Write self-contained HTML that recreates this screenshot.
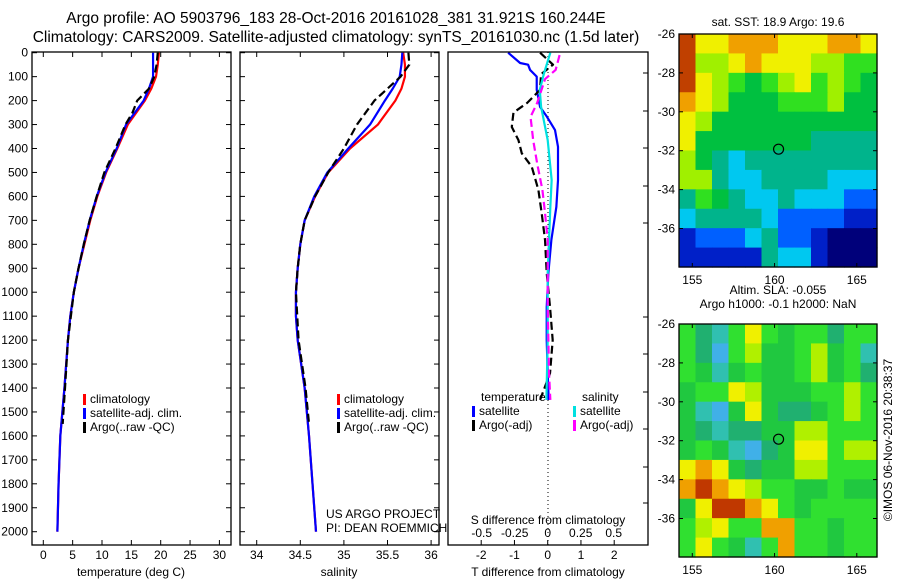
<!DOCTYPE html>
<html><head><meta charset="utf-8"><style>
body{margin:0;background:#fff;}
svg{display:block;font-family:"Liberation Sans",sans-serif;font-size:12px;}
</style></head><body>
<svg id="c" width="900" height="580" xmlns="http://www.w3.org/2000/svg"></svg>
<script>
// ---------- data ----------
const depths = [0,50,100,150,200,300,400,500,600,700,800,900,1000,1100,1200,1400,1600,1800,2000];
const tClim  = [19.7,19.5,19.2,18.4,17.3,14.4,12.6,10.7,9.2,8.0,7.0,6.0,5.2,4.6,4.2,3.6,2.9,2.6,2.4];
const tSat   = [18.7,18.7,18.7,18.0,17.1,14.1,12.5,10.6,9.1,7.9,6.9,6.0,5.2,4.6,4.2,3.6,2.9,2.6,2.4];
const argoDepths = [0,50,100,150,200,250,300,400,500,600,700,800,900,1000,1200,1400,1550];
const tArgo  = [19.5,19.3,18.9,18.0,16.0,15.2,14.0,12.3,10.4,9.1,7.9,6.9,6.0,5.2,4.2,3.7,3.3];
const sClim  = [35.68,35.70,35.70,35.66,35.59,35.39,35.07,34.82,34.67,34.55,34.50,34.47,34.45,34.45,34.47,34.55,34.60,34.64,34.68];
const sSat   = [35.67,35.66,35.64,35.56,35.47,35.30,35.05,34.81,34.66,34.55,34.50,34.47,34.45,34.45,34.47,34.55,34.60,34.64,34.68];
const sArgo  = [35.74,35.75,35.65,35.50,35.35,35.25,35.15,35.00,34.82,34.67,34.55,34.50,34.47,34.45,34.48,34.56,34.60];
const dTdepth = [0,43,50,72,100,155,226,268,323,393,532,644,782,920,1062,1200,1338,1450];
const dTsat   = [-1.19,-0.83,-0.59,-0.53,-0.33,-0.33,-0.23,-0.02,0.22,0.31,0.31,0.26,0.11,0.02,-0.03,-0.03,0,0.03];
const dTargoDepth = [0,50,90,155,210,250,310,365,420,476,573,671,782,920,1062,1200,1338,1450];
const dTargo  = [-0.23,0.16,-0.2,-0.23,-0.62,-1.03,-1.08,-0.88,-0.78,-0.48,-0.28,-0.18,-0.08,-0.03,0.07,0.15,0.07,-0.23];
const dSdepth = [0,90,155,226,365,532,644,920,1200,1450];
const dSsat   = [0.02,-0.03,-0.06,-0.05,0,0.03,0.02,0,0,-0.01];
const dSargoDepth = [10,72,110,210,268,365,462,573,671,782,1062,1338,1450];
const dSargo  = [0.09,0.06,-0.02,-0.08,-0.13,-0.11,-0.08,-0.04,-0.02,0,0,0.01,0.02];
const depthTicks = [0,100,200,300,400,500,600,700,800,900,1000,1100,1200,1300,1400,1500,1600,1700,1800,1900,2000];
const tTicks = [0,5,10,15,20,25,30];
const sTicks = [34,34.5,35,35.5,36];
const sTickLabels = ["34","34.5","35","35.5","36"];
const dTTicks = [-2,-1,0,1,2];
const dSTicks = [-0.5,-0.25,0,0.25,0.5];
const dSTickLabels = ["-0.5","-0.25","0","0.25","0.5"];
const lonTicks = [155,160,165];
const latTicks = [-26,-28,-30,-32,-34,-36];
const sstPalette = ["#00007a","#0020c8","#0060ff","#00c8f0","#00b48c","#00c040","#30e020","#a0f000","#f0f000","#f0a000","#c04000"];
const slaPalette = ["#0040c0","#0080e0","#40b0e8","#30c0b0","#20b070","#20c840","#30e030","#b0f000","#f0f000","#f0a000","#c03800"];
const sstGrid = [
[10,8,8,9,9,9,8,8,8,9,9,8],
[10,7,7,8,9,8,8,8,7,7,6,6],
[10,8,7,6,5,6,7,8,6,7,6,5],
[9,8,7,5,5,5,6,6,6,7,5,5],
[8,7,5,5,5,5,5,5,5,5,5,5],
[8,5,5,5,5,5,5,5,4,4,4,4],
[7,5,4,3,4,4,4,4,4,4,4,4],
[7,7,4,3,3,4,4,4,4,3,3,3],
[4,6,5,4,3,3,4,3,3,3,2,2],
[3,4,4,4,4,3,2,2,2,2,1,1],
[1,2,2,2,3,4,2,2,1,0,0,0],
[1,1,1,1,1,4,3,3,1,0,0,0]];
const slaGrid = [
[6,4,3,6,8,6,5,6,6,4,6,6],
[6,4,2,6,7,5,5,6,7,5,6,3],
[6,5,3,5,6,5,5,6,7,5,6,4],
[5,6,6,8,7,5,5,5,6,6,7,6],
[5,3,2,5,8,5,4,4,5,6,7,6],
[5,4,3,4,4,5,5,7,7,6,6,6],
[5,6,5,3,2,4,5,8,8,6,7,7],
[8,9,8,5,4,5,5,7,7,6,6,6],
[9,10,9,8,7,6,6,5,5,6,5,5],
[5,8,10,10,9,8,6,5,6,6,6,6],
[6,7,8,6,6,9,9,6,6,5,6,6],
[6,8,6,5,3,6,9,6,6,5,6,6]];

// ---------- helpers ----------
const svg=document.getElementById('c');
const NS="http://www.w3.org/2000/svg";
function el(tag,attrs,parent){const e=document.createElementNS(NS,tag);for(const k in attrs)e.setAttribute(k,attrs[k]);(parent||svg).appendChild(e);return e;}
function txt(x,y,s,anchor,parent,extra){const t=el('text',Object.assign({x:x,y:y,'text-anchor':anchor||'start',fill:'#000'},extra||{}),parent);t.textContent=s;return t;}
const yD = d => 52.7 + d*0.2395;
const xT = v => 43.3 + v*5.87;
const xS = v => 256.7 + (v-34)*87.2;
const xDT = v => 547.7 + v*33.25;
const xDS = v => 547.7 + v*132;
function line(xs,ds,xf,color,dash,name){
  const p=el('polyline',{points:xs.map((v,i)=>xf(v)+','+yD(ds[i])).join(' '),fill:'none',stroke:color,'stroke-width':2.2,'stroke-linejoin':'round','stroke-dasharray':dash||'none'});
  
  
  return p;
}
function box(x,y,w,h,name){const r=el('rect',{x:x,y:y,width:w,height:h,fill:'none',stroke:'#000','stroke-width':1.3});return r;}

// titles
const t1=txt(336,23,"Argo profile: AO 5903796_183 28-Oct-2016 20161028_381 31.921S 160.244E",'middle',null,{'font-size':'15.5px'});

const t2=txt(336,42,"Climatology: CARS2009. Satellite-adjusted climatology: synTS_20161030.nc (1.5d later)",'middle',null,{'font-size':'15.5px'});


// ---------- panel 1 temperature ----------
const g1=el('g',{});
depthTicks.forEach(d=>{el('line',{x1:32,x2:37,y1:yD(d),y2:yD(d),stroke:'#000'},g1);el('line',{x1:226,x2:231,y1:yD(d),y2:yD(d),stroke:'#000'},g1);
  const t=txt(28,yD(d)+4,String(d),'end',g1);});
tTicks.forEach(v=>{el('line',{x1:xT(v),x2:xT(v),y1:545,y2:540,stroke:'#000'},g1);el('line',{x1:xT(v),x2:xT(v),y1:52,y2:57,stroke:'#000'},g1);
  const t=txt(xT(v),559,String(v),'middle',g1);});
const xl1=txt(131,576,"temperature (deg C)",'middle',g1);
line(tClim,depths,xT,'#ff0000',null,'temperature-climatology-line');
line(tSat,depths,xT,'#0000ff',null,'temperature-satellite-line');
line(tArgo,argoDepths,xT,'#000','8,4','temperature-argo-line');
box(32,52,199,493,'temperature-axes-box');

function legend(x,y,items,prefix){
  items.forEach((it,i)=>{
    const r=el('rect',{x:x,y:y+i*14-9,width:3,height:11,fill:it[1]});
    
    const t=txt(x+7,y+i*14,it[0],'start');
    
  });
}
legend(83,403,[["climatology","#ff0000"],["satellite-adj. clim.","#0000ff"],["Argo(..raw -QC)","#000"]],'temperature');

// ---------- panel 2 salinity ----------
const g2=el('g',{});
depthTicks.forEach(d=>{el('line',{x1:240,x2:245,y1:yD(d),y2:yD(d),stroke:'#000'},g2);el('line',{x1:434,x2:439,y1:yD(d),y2:yD(d),stroke:'#000'},g2);});
sTicks.forEach((v,i)=>{el('line',{x1:xS(v),x2:xS(v),y1:545,y2:540,stroke:'#000'},g2);el('line',{x1:xS(v),x2:xS(v),y1:52,y2:57,stroke:'#000'},g2);
  const t=txt(xS(v),559,sTickLabels[i],'middle',g2);});
const xl2=txt(339,576,"salinity",'middle',g2);
line(sClim,depths,xS,'#ff0000',null,'salinity-climatology-line');
line(sSat,depths,xS,'#0000ff',null,'salinity-satellite-line');
line(sArgo,argoDepths,xS,'#000','8,4','salinity-argo-line');
box(240,52,199,493,'salinity-axes-box');
legend(337,403,[["climatology","#ff0000"],["satellite-adj. clim.","#0000ff"],["Argo(..raw -QC)","#000"]],'salinity');
const c1=txt(326,518,"US ARGO PROJECT",'start');
const c2=txt(326,532,"PI: DEAN ROEMMICH",'start');

// ---------- panel 3 differences ----------
const g3=el('g',{});
[73,111,148,186,223,317,354,392,429,467,503].forEach(y=>{el('line',{x1:643,x2:648,y1:y,y2:y,stroke:'#000'},g3);});
el('line',{x1:548,x2:548,y1:52,y2:545,stroke:'#000','stroke-dasharray':'1,3'},g3);
dTTicks.forEach(v=>{el('line',{x1:xDT(v),x2:xDT(v),y1:545,y2:540,stroke:'#000'},g3);
  const t=txt(xDT(v),559,String(v),'middle',g3);});
dSTicks.forEach((v,i)=>{const t=txt(xDS(v),537,dSTickLabels[i],'middle',g3);});
const xl3=txt(548,576,"T difference from climatology",'middle',g3);
const xl4=txt(548,524,"S difference from climatology",'middle',g3);
line(dTsat,dTdepth,xDT,'#0000ff',null,'t-diff-satellite-line');
line(dTargo,dTargoDepth,xDT,'#000','8,4','t-diff-argo-line');
line(dSsat,dSdepth,xDS,'#00e0e0',null,'s-diff-satellite-line');
line(dSargo,dSargoDepth,xDS,'#ff00ff','8,4','s-diff-argo-line');
box(448,52,200,493,'difference-axes-box');
const lt=txt(481,401,"temperature",'start');
const ls=txt(582,401,"salinity",'start');
legend(472,415,[["satellite","#0000ff"],["Argo(-adj)","#000"]],'t-diff');
legend(573,415,[["satellite","#00e0e0"],["Argo(-adj)","#ff00ff"]],'s-diff');

// ---------- maps ----------
const xLon = v => 692.3 + (v-155)*16.45;
function drawMap(top,grid,pal,title1,title2,name){
  const g=el('g',{});
  const left=679,w=198,h=233,cw=w/12,ch=h/12;
  grid.forEach((row,r)=>row.forEach((v,c)=>{
    const cell=el('rect',{x:left+c*cw,y:top+r*ch,width:cw+0.6,height:ch+0.6,fill:pal[v]},g);
    
    
  }));
  const yLat = v => top + (-26 - v)*19.45;
  latTicks.forEach(v=>{el('line',{x1:left,x2:left+4,y1:yLat(v),y2:yLat(v),stroke:'#000'},g);el('line',{x1:left+w-4,x2:left+w,y1:yLat(v),y2:yLat(v),stroke:'#000'},g);
    const t=txt(left-4,yLat(v)+4,String(v),'end',g);});
  lonTicks.forEach(v=>{el('line',{x1:xLon(v),x2:xLon(v),y1:top+h,y2:top+h-4,stroke:'#000'},g);el('line',{x1:xLon(v),x2:xLon(v),y1:top,y2:top+4,stroke:'#000'},g);
    const t=txt(xLon(v),top+h+17,String(v),'middle',g);});
  const m=el('circle',{cx:xLon(160.244),cy:yLat(-31.921),r:5,fill:'none',stroke:'#000','stroke-width':1.2},g);
  
  el('rect',{x:left,y:top,width:w,height:h,fill:'none',stroke:'#000','stroke-width':1.3},g);
  if(title2){const a=txt(778,top-30,title1,'middle',g);
    const b=txt(778,top-16,title2,'middle',g);}
  else{const a=txt(778,top-8,title1,'middle',g);}
}
drawMap(34,sstGrid,sstPalette,"sat. SST: 18.9 Argo: 19.6",null,'sst-map');
drawMap(324,slaGrid,slaPalette,"Altim. SLA: -0.055","Argo h1000: -0.1 h2000: NaN",'sla-map');
const stamp=txt(0,0,"©IMOS 06-Nov-2016 20:38:37",'middle',null,{transform:'translate(892,440) rotate(-90)'});

</script>
</body></html>
